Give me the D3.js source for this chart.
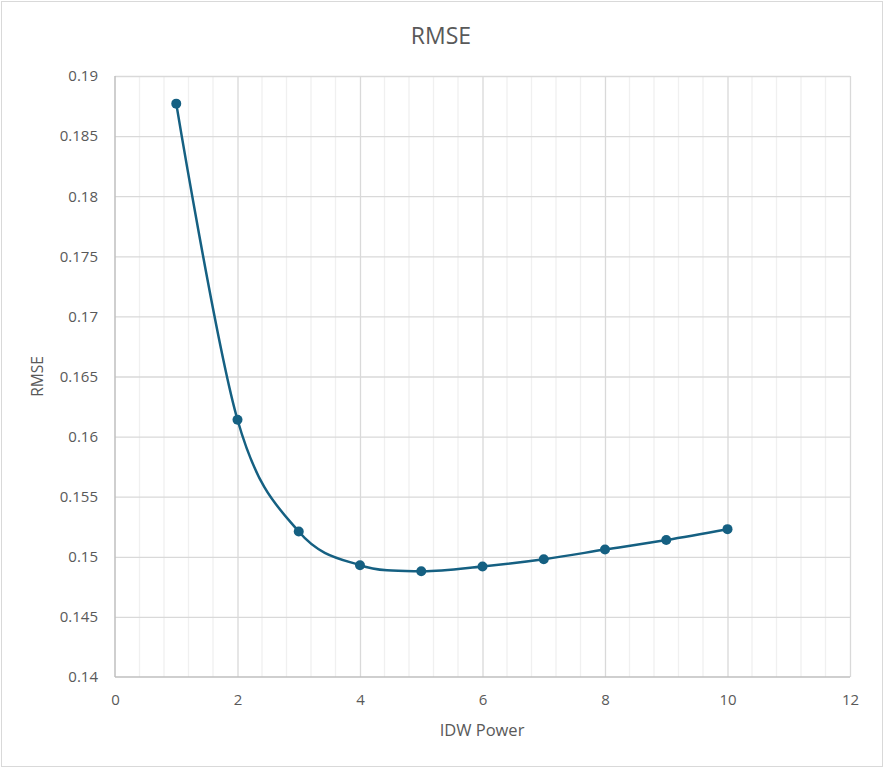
<!DOCTYPE html>
<html>
<head>
<meta charset="utf-8">
<script src="https://cdn.jsdelivr.net/npm/d3@7"></script>
<style>
  body { margin: 0; background: #fff; }
  text { font-family: "Open Sans", "Noto Sans", sans-serif; fill: #595959; }
</style>
</head>
<body>
<div id="root"></div>
<script>
// IDW power vs RMSE
var powers = [1, 2, 3, 4, 5, 6, 7, 8, 9, 10];
var rmse = [0.1877, 0.1614, 0.1521, 0.1493, 0.1488, 0.1492, 0.1498, 0.1506, 0.1514, 0.1523];
var xTicks = [0, 2, 4, 6, 8, 10, 12];
var yTicks = [0.14, 0.145, 0.15, 0.155, 0.16, 0.165, 0.17, 0.175, 0.18, 0.185, 0.19];

var W = 884, H = 768;
var margin = { top: 76, right: 34, bottom: 91, left: 115 };

var svg = d3.select("#root")
    .append("svg")
    .attr("width", W)
    .attr("height", H);

// chart border
svg.append("rect")
    .attr("x", 1.5).attr("y", 1.5)
    .attr("width", W - 3).attr("height", H - 3)
    .attr("fill", "#fff")
    .attr("stroke", "#d9d9d9")
    .attr("stroke-width", 1);

var x = d3.scaleLinear().domain([0, 12]).range([margin.left, W - margin.right]);
var y = d3.scaleLinear().domain([0.14, 0.19]).range([H - margin.bottom, margin.top]);

var g = svg.append("g");

// minor vertical gridlines (every 0.4)
g.append("g")
    .selectAll("line")
    .data(d3.range(1, 30).map(function (i) { return i * 0.4; }).filter(function (v) {
        return Math.abs(v / 2 - Math.round(v / 2)) > 1e-6;
    }))
    .enter()
    .append("line")
    .attr("x1", function (d) { return x(d); })
    .attr("x2", function (d) { return x(d); })
    .attr("y1", y(0.19))
    .attr("y2", y(0.14))
    .attr("stroke", "#f0f0f0")
    .attr("stroke-width", 1.3);

// major vertical gridlines
g.append("g")
    .call(d3.axisBottom(x).tickValues(xTicks.slice(1)).tickSize(-(y(0.14) - y(0.19))).tickFormat(""))
    .attr("transform", "translate(0," + y(0.14) + ")")
    .call(function (a) {
        a.select(".domain").remove();
        a.selectAll("line").attr("stroke", "#d9d9d9").attr("stroke-width", 1.3);
    });

// horizontal gridlines
g.append("g")
    .call(d3.axisLeft(y).tickValues(yTicks.slice(1)).tickSize(-(x(12) - x(0))).tickFormat(""))
    .attr("transform", "translate(" + x(0) + ",0)")
    .call(function (a) {
        a.select(".domain").remove();
        a.selectAll("line").attr("stroke", "#d9d9d9").attr("stroke-width", 1.3);
    });

// axis lines
g.append("line")
    .attr("x1", x(0)).attr("x2", x(0))
    .attr("y1", y(0.19)).attr("y2", y(0.14))
    .attr("stroke", "#bfbfbf").attr("stroke-width", 1.5);
g.append("line")
    .attr("x1", x(0)).attr("x2", x(12))
    .attr("y1", y(0.14)).attr("y2", y(0.14))
    .attr("stroke", "#bfbfbf").attr("stroke-width", 1.5);

// tick labels
var xAxis = svg.append("g")
    .attr("transform", "translate(0," + y(0.14) + ")")
    .call(d3.axisBottom(x).tickValues(xTicks).tickSize(0).tickPadding(17).tickFormat(d3.format("d")));
xAxis.select(".domain").remove();
xAxis.selectAll("text").attr("font-size", "15px").attr("fill", "#595959")
    .attr("font-family", "'Open Sans', sans-serif");

var yAxis = svg.append("g")
    .attr("transform", "translate(" + x(0) + ",0)")
    .call(d3.axisLeft(y).tickValues(yTicks).tickSize(0).tickPadding(17).tickFormat(function (d) {
        return +d.toFixed(3) + "";
    }));
yAxis.select(".domain").remove();
yAxis.selectAll("text").attr("font-size", "15px").attr("fill", "#595959")
    .attr("font-family", "'Open Sans', sans-serif");

// titles
svg.append("text")
    .attr("x", 441).attr("y", 44)
    .attr("text-anchor", "middle")
    .attr("font-size", "23px")
    .text("RMSE");

svg.append("text")
    .attr("x", 482).attr("y", 736)
    .attr("text-anchor", "middle")
    .attr("font-size", "16.5px")
    .text("IDW Power");

svg.append("text")
    .attr("transform", "translate(43," + ((y(0.19) + y(0.14)) / 2) + ") rotate(-90)")
    .attr("text-anchor", "middle")
    .attr("font-size", "15.5px")
    .text("RMSE");

// series
var pts = powers.map(function (p, i) { return [p, rmse[i]]; });

var line = d3.line()
    .x(function (d) { return x(d[0]); })
    .y(function (d) { return y(d[1]); })
    .curve(d3.curveCardinal.tension(0));

svg.append("path")
    .datum(pts)
    .attr("d", line)
    .attr("fill", "none")
    .attr("stroke", "#156082")
    .attr("stroke-width", 2.5);

svg.selectAll("circle")
    .data(pts)
    .enter()
    .append("circle")
    .attr("cx", function (d) { return x(d[0]); })
    .attr("cy", function (d) { return y(d[1]); })
    .attr("r", 5)
    .attr("fill", "#156082");
</script>
</body>
</html>
